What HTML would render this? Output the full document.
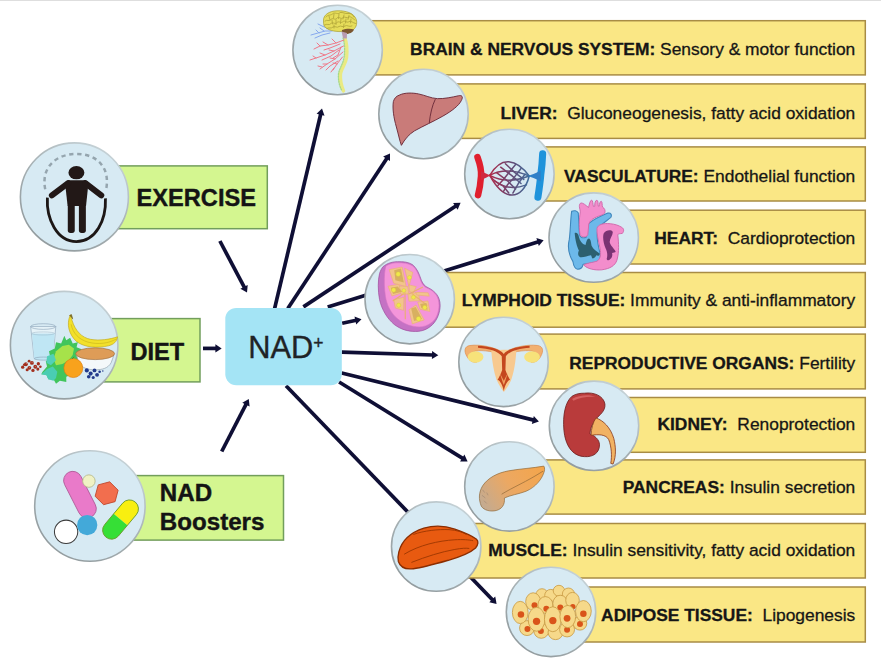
<!DOCTYPE html>
<html><head><meta charset="utf-8"><style>
html,body{margin:0;padding:0;background:#fff;width:881px;height:663px;overflow:hidden}
svg{display:block;font-family:"Liberation Sans",sans-serif}
</style></head><body>
<svg width="881" height="663" viewBox="0 0 881 663" font-family="Liberation Sans, sans-serif"><defs><linearGradient id="cg" x1="0.85" y1="0" x2="0.15" y2="1"><stop offset="0" stop-color="#cad7dc"/><stop offset="0.45" stop-color="#a9b3b6"/><stop offset="1" stop-color="#8f989b"/></linearGradient></defs><rect x="0" y="0" width="881" height="1.0" fill="#dedede"/>
<line x1="274.6" y1="308.6" x2="320.8" y2="113.8" stroke="#0f0f35" stroke-width="3.7"/><polygon points="322.0,108.6 324.5,115.7 316.6,113.8" fill="#0f0f35"/>
<line x1="287.8" y1="308.6" x2="387.1" y2="157.9" stroke="#0f0f35" stroke-width="3.7"/><polygon points="390.0,153.5 390.0,161.0 383.1,156.5" fill="#0f0f35"/>
<line x1="303.4" y1="306.9" x2="456.2" y2="205.7" stroke="#0f0f35" stroke-width="3.7"/><polygon points="460.6,202.8 457.6,209.7 453.1,202.9" fill="#0f0f35"/>
<line x1="327.7" y1="306.9" x2="538.5" y2="241.8" stroke="#0f0f35" stroke-width="3.7"/><polygon points="543.6,240.2 538.8,246.0 536.4,238.1" fill="#0f0f35"/>
<line x1="342.2" y1="323.2" x2="356.3" y2="320.3" stroke="#0f0f35" stroke-width="3.7"/><polygon points="361.5,319.2 356.2,324.5 354.5,316.5" fill="#0f0f35"/>
<line x1="341.8" y1="352.2" x2="433.0" y2="355.0" stroke="#0f0f35" stroke-width="3.7"/><polygon points="438.3,355.2 431.9,359.1 432.1,350.9" fill="#0f0f35"/>
<line x1="341.7" y1="373.0" x2="533.8" y2="420.1" stroke="#0f0f35" stroke-width="3.7"/><polygon points="538.9,421.4 531.8,423.9 533.8,415.9" fill="#0f0f35"/>
<line x1="339.1" y1="382.0" x2="463.1" y2="458.6" stroke="#0f0f35" stroke-width="3.7"/><polygon points="467.6,461.4 460.1,461.6 464.4,454.6" fill="#0f0f35"/>
<line x1="286.0" y1="385.8" x2="492.9" y2="600.2" stroke="#0f0f35" stroke-width="3.7"/><polygon points="496.6,604.0 489.3,602.3 495.2,596.6" fill="#0f0f35"/>
<line x1="219.9" y1="241.0" x2="244.5" y2="287.7" stroke="#0f0f35" stroke-width="3.7"/><polygon points="247.0,292.4 240.4,288.7 247.7,284.9" fill="#0f0f35"/>
<line x1="203.0" y1="348.4" x2="216.4" y2="348.4" stroke="#0f0f35" stroke-width="3.7"/><polygon points="221.7,348.4 215.4,352.5 215.4,344.3" fill="#0f0f35"/>
<line x1="221.7" y1="451.5" x2="246.4" y2="403.7" stroke="#0f0f35" stroke-width="3.7"/><polygon points="248.8,399.0 249.6,406.5 242.3,402.7" fill="#0f0f35"/>
<rect x="337.6" y="20.7" width="527.7" height="54.2" fill="#fae785" stroke="#a88c45" stroke-width="1.5"/>
<text x="855.3" y="54.9" text-anchor="end" font-size="17.4" fill="#161616" stroke="#161616" stroke-width="0.3" xml:space="preserve"><tspan font-weight="bold">BRAIN &amp; NERVOUS SYSTEM:</tspan> Sensory &amp; motor function</text>
<rect x="423.5" y="83.9" width="441.8" height="54.5" fill="#fae785" stroke="#a88c45" stroke-width="1.5"/>
<text x="855.3" y="118.8" text-anchor="end" font-size="17.4" fill="#161616" stroke="#161616" stroke-width="0.3" xml:space="preserve"><tspan font-weight="bold">LIVER:</tspan>  Gluconeogenesis, fatty acid oxidation</text>
<rect x="509.4" y="146.9" width="355.9" height="54.1" fill="#fae785" stroke="#a88c45" stroke-width="1.5"/>
<text x="855.3" y="181.5" text-anchor="end" font-size="17.4" fill="#161616" stroke="#161616" stroke-width="0.3" xml:space="preserve"><tspan font-weight="bold">VASCULATURE:</tspan> Endothelial function</text>
<rect x="593.7" y="210.2" width="271.6" height="53.8" fill="#fae785" stroke="#a88c45" stroke-width="1.5"/>
<text x="855.3" y="244.3" text-anchor="end" font-size="17.4" fill="#161616" stroke="#161616" stroke-width="0.3" xml:space="preserve"><tspan font-weight="bold">HEART:</tspan>  Cardioprotection</text>
<rect x="409.7" y="272.5" width="455.6" height="54.7" fill="#fae785" stroke="#a88c45" stroke-width="1.5"/>
<text x="855.3" y="306.2" text-anchor="end" font-size="17.4" fill="#161616" stroke="#161616" stroke-width="0.3" xml:space="preserve"><tspan font-weight="bold">LYMPHOID TISSUE:</tspan> Immunity &amp; anti-inflammatory</text>
<rect x="503.5" y="334.1" width="361.8" height="54.8" fill="#fae785" stroke="#a88c45" stroke-width="1.5"/>
<text x="855.3" y="369.1" text-anchor="end" font-size="17.4" fill="#161616" stroke="#161616" stroke-width="0.3" xml:space="preserve"><tspan font-weight="bold">REPRODUCTIVE ORGANS:</tspan> Fertility</text>
<rect x="594.0" y="397.5" width="271.3" height="54.8" fill="#fae785" stroke="#a88c45" stroke-width="1.5"/>
<text x="855.3" y="430.2" text-anchor="end" font-size="17.4" fill="#161616" stroke="#161616" stroke-width="0.3" xml:space="preserve"><tspan font-weight="bold">KIDNEY:</tspan>  Renoprotection</text>
<rect x="509.4" y="459.9" width="355.9" height="54.2" fill="#fae785" stroke="#a88c45" stroke-width="1.5"/>
<text x="855.3" y="492.7" text-anchor="end" font-size="17.4" fill="#161616" stroke="#161616" stroke-width="0.3" xml:space="preserve"><tspan font-weight="bold">PANCREAS:</tspan> Insulin secretion</text>
<rect x="436.2" y="523.5" width="429.1" height="54.5" fill="#fae785" stroke="#a88c45" stroke-width="1.5"/>
<text x="855.3" y="556.3" text-anchor="end" font-size="17.4" fill="#161616" stroke="#161616" stroke-width="0.3" xml:space="preserve"><tspan font-weight="bold">MUSCLE:</tspan> Insulin sensitivity, fatty acid oxidation</text>
<rect x="551.0" y="587.0" width="314.3" height="55.0" fill="#fae785" stroke="#a88c45" stroke-width="1.5"/>
<text x="855.3" y="620.6" text-anchor="end" font-size="17.4" fill="#161616" stroke="#161616" stroke-width="0.3" xml:space="preserve"><tspan font-weight="bold">ADIPOSE TISSUE:</tspan>  Lipogenesis</text>
<circle cx="337.6" cy="50" r="44.7" fill="#d7eaf3" stroke="url(#cg)" stroke-width="1.6"/>

<g stroke-linecap="round" fill="none">
<path d="M344.5,37 C346.5,42 347.5,50 346.5,58 C345.5,64 341,69 340.5,74 C340,80 341.5,86 343.5,91" stroke="#eaea82" stroke-width="3.4"/>
<path d="M343,38 C345,44 345,52 344,58 C343,64 339,69 338.5,74 C338,80 339.5,86 341.5,90" stroke="#a8d884" stroke-width="1.3" stroke-dasharray="1.3 1.3"/>
<g stroke="#ef7888" stroke-width="1">
<path d="M344,40 L336,43 L328,45 L320,46 L314,49"/><path d="M328,45 L323,42"/><path d="M336,43 L332,39"/><path d="M320,46 L317,43"/>
<path d="M343.5,46 L334,51 L325,55 L316,58 L310,60"/><path d="M325,55 L320,53"/><path d="M334,51 L329,50"/><path d="M316,58 L313,56"/>
<path d="M343,52 L335,59 L327,64 L320,69"/><path d="M327,64 L323,64"/><path d="M335,59 L330,58"/><path d="M322,67 L318,66"/>
<path d="M342.5,57 L337,64 L333,70"/><path d="M337,64 L333,63"/><path d="M334,68 L331,72"/>
<path d="M341,47 L338,55 L333,58"/><path d="M340,44 L330,48 L324,50"/><path d="M339,50 L331,56 L322,60"/><path d="M338,61 L330,66 L326,70"/>
</g>
<g stroke="#86a8ee" stroke-width="1">
<path d="M332,31 L325,31 L318,33 L311,35"/><path d="M329,29 L322,26 L318,24"/><path d="M330,33 L322,35 L315,38"/><path d="M324,31 L320,28"/><path d="M319,33 L316,30"/>
</g>
</g>
<path d="M323.5,21 C323,15 329,11 337,10.8 C346,10.5 354,13 356.3,19.5 C357.5,24 356,28.5 352,30.5 C346,31.5 340,32 335,31.2 C330,30.5 325.5,28.5 324,25.5 C323.5,24 323.5,22.5 323.5,21 Z" fill="#e6dd5a" stroke="#a89e32" stroke-width="0.7"/>
<g fill="none" stroke="#aea338" stroke-width="0.8" stroke-linecap="round">
<path d="M326,17 C328,14 331,16 333,13.5 C335,12 338,15 340,12.5 C343,12 345,14 348,13.5 C351,13 353,15 354,17"/>
<path d="M325,21 C327,19 329,22 331,19.5 C333,17 335,21 337,18 C339,16 341,20 343,17.5 C345,16 347,19 349,17 C351,16 353,19 355,20"/>
<path d="M324.5,25 C327,23 329,26 331,23.5 C333,21.5 335,25 337,22.5 C339,20.5 341,24 343,21.5 C345,20 347,23.5 349,21.5 C351,20.5 353,23 355.5,23.5"/>
<path d="M327,28.5 C329,27 331,29 333,27 C335,25.5 337,28.5 339,26.5 C341,25 343,28 345,26 C347,24.5 349,27.5 352,26"/>
<path d="M329,16 L330,20 M334,14 L333.5,18 M339,14 L338.5,18.5 M344,15 L343,19 M349,15.5 L348,19.5 M332,20 L332.5,24 M336,20 L336,24.5 M341,19 L340.5,23.5 M346,19 L345.5,23 M351,19 L350.5,23 M334,25 L334,28 M344,24 L343.5,27.5"/>
</g>
<path d="M342,30 C346,28.5 351,28.5 354,29.5 C353,32.5 349,34 346,34 C343.5,34 341.5,32.5 342,30 Z" fill="#7b5630"/>
<path d="M341.5,31.5 L347,33 L346.8,38.5 L343.2,38.5 Z" fill="#b99ab0"/>

<circle cx="423.5" cy="114" r="44.7" fill="#d7eaf3" stroke="url(#cg)" stroke-width="1.6"/>
<g transform="translate(379 70) scale(0.13575)">
<path d="M150,185 C190,165 250,168 290,176 C340,186 380,208 430,211 C480,213 540,200 585,190 C612,184 622,196 606,226 C588,262 540,300 470,340 C400,380 330,410 262,448 C220,474 190,510 165,555 C152,520 142,470 128,420 C108,350 98,282 106,232 C114,206 128,193 150,185 Z" fill="#c97b79" stroke="#6d2c3a" stroke-width="7"/>
<path d="M415,215 C392,262 378,320 370,392" fill="none" stroke="#6d2c3a" stroke-width="7"/>
</g>
<circle cx="509.4" cy="174" r="44.7" fill="#d7eaf3" stroke="url(#cg)" stroke-width="1.6"/>
<g transform="translate(465 130) scale(0.13575)">


<path d="M92,200 C110,250 122,300 118,340 C114,400 104,450 96,480" fill="none" stroke="#e01f2e" stroke-width="48" stroke-linecap="round"/>
<path d="M572,175 C570,230 564,290 558,332 C552,400 544,450 537,495" fill="none" stroke="#1e93db" stroke-width="52" stroke-linecap="round"/>
</g><g transform="translate(483 155) scale(0.06789)">
<defs><linearGradient id="vg" gradientUnits="userSpaceOnUse" x1="100" y1="0" x2="680" y2="0"><stop offset="0" stop-color="#b02a48"/><stop offset="0.5" stop-color="#6a4670"/><stop offset="1" stop-color="#3f6e9c"/></linearGradient></defs>
<g fill="none" stroke="url(#vg)" stroke-width="22" stroke-linecap="round" stroke-linejoin="round">
<path d="M100,300 C200,130 300,95 380,100 C500,110 600,200 680,310"/>
<path d="M100,300 C180,450 280,580 420,590 C540,595 640,480 680,310"/>
<path d="M100,300 C250,220 420,200 680,310"/>
<path d="M100,300 C250,380 450,400 680,310"/>
<path d="M100,300 C220,470 420,520 640,440"/>
<path d="M260,180 L420,300 L560,420"/>
<path d="M330,130 L470,260 L600,360"/>
<path d="M200,260 L360,380 L480,500"/>
<path d="M170,380 L300,460 L380,560"/>
<path d="M480,140 L380,260 L300,360 L220,450"/>
<path d="M560,200 L460,330 L360,440 L300,540"/>
<path d="M620,280 L520,420 L440,560"/>
</g>
<path d="M-30,235 C30,265 80,290 115,300 C80,318 30,345 -30,375 Z" fill="#d02a40"/>
<path d="M850,230 C770,270 710,298 665,310 C710,325 770,350 850,390 Z" fill="#3080c8"/>
</g>
<circle cx="593.7" cy="237.6" r="44.7" fill="#d7eaf3" stroke="url(#cg)" stroke-width="1.6"/>
<g transform="translate(562 195) scale(0.12069)">
<path d="M80,135 C100,125 125,130 135,150 L145,330 C150,350 170,360 200,350 L215,240 C260,205 330,170 380,150 C405,145 415,165 405,185 C370,215 320,245 300,280 C285,320 295,400 310,460 C320,500 320,540 300,560 C260,570 200,560 175,575 C170,600 160,615 130,615 C100,612 95,580 90,550 C60,500 45,430 60,370 C70,300 70,200 80,135 Z" fill="#6cb9ea" stroke="#3f86bb" stroke-width="9"/>
<path d="M158,66 C176,66 196,84 220,104 C226,78 232,48 245,42 C256,44 255,72 260,95 L272,93 C270,68 276,44 289,43 C300,46 298,72 300,92 L308,93 C310,72 316,52 325,52 C336,58 330,85 336,100 C352,110 362,128 354,150 C342,166 312,170 286,182 C256,195 232,210 222,240 L214,330 C206,350 166,356 150,330 C142,290 140,200 152,140 C150,124 146,112 144,96 C143,82 148,68 158,66 Z" fill="#f38dcc" stroke="#d06aac" stroke-width="8"/>
<path d="M290,275 C300,245 340,232 400,238 C440,242 470,252 495,268 C515,280 515,300 500,318 C480,322 465,318 462,330 C470,400 475,470 455,540 C440,585 400,610 330,620 C270,625 210,612 180,580 C200,565 250,560 290,548 C320,530 325,490 315,440 C305,390 285,320 290,275 Z" fill="#f38dcc" stroke="#d06aac" stroke-width="8"/>
<path d="M105,315 C120,305 135,320 140,345 C148,380 165,405 195,415 C200,390 205,365 222,360 C240,365 240,395 245,420 C258,450 290,470 312,485 C315,500 300,510 285,500 C275,515 265,530 250,525 C245,515 245,505 240,500 C210,505 175,520 150,515 C130,505 130,480 140,460 C125,430 110,380 105,315 Z" fill="#2c6070"/>
<path d="M345,320 C365,290 405,285 420,305 C425,330 395,360 395,390 C400,420 430,440 445,470 C440,480 425,475 415,480 C420,500 415,520 400,530 C390,545 375,545 370,530 C380,500 375,470 360,440 C345,400 335,350 345,320 Z" fill="#7a3373"/>
</g>
<circle cx="409.7" cy="299.2" r="44.7" fill="#d7eaf3" stroke="url(#cg)" stroke-width="1.6"/>
<g transform="translate(375 260) scale(0.11308)">
<path d="M70,60 C110,25 160,15 200,15 C250,14 290,16 330,40 C370,70 390,120 410,180 C425,215 440,232 470,245 C530,275 575,320 576,400 C577,460 550,530 510,570 C470,610 420,632 360,632 C290,632 230,615 170,570 C110,520 60,440 40,350 C25,270 25,180 40,120 C48,95 58,75 70,60 Z" fill="#c472c4" stroke="#9c4c9a" stroke-width="6"/>
<path d="M100,50 C140,30 170,25 200,25 C250,24 290,28 330,50 C365,75 385,125 405,185 C420,220 440,240 470,252 C530,280 566,325 566,400 C566,455 545,520 505,550 C465,580 430,592 390,592 C330,592 260,570 200,520 C140,470 105,400 92,320 C82,250 80,180 85,120 C88,90 92,65 100,50 Z" fill="#f495da" stroke="#d874c4" stroke-width="5"/>
<g fill="#f2c48c" stroke="#e8b070" stroke-width="5" stroke-linejoin="round">
<path d="M125,85 L240,62 L275,235 L165,205 Z"/>
<path d="M262,72 L335,110 L300,235 Z"/>
<path d="M115,232 L205,215 L265,282 L150,318 Z"/>
<path d="M215,230 L290,235 L300,300 L230,305 Z"/>
<path d="M300,220 L365,235 L340,290 L305,280 Z"/>
<path d="M290,295 L385,290 L395,360 L300,365 Z"/>
<path d="M165,350 L255,330 L252,445 L180,425 Z"/>
<path d="M378,372 L468,362 L485,455 L398,435 Z"/>
<path d="M300,440 L362,398 L435,530 L330,565 Z"/>
<path d="M360,285 L470,290 L480,320 L370,310 Z"/>
</g>
<g fill="none" stroke="#e8b070" stroke-width="10" stroke-linecap="round">
<path d="M265,290 L268,520 M300,300 L420,240 M330,300 L460,400 M250,300 L160,360"/>
</g>
<g fill="#d8b060"><path d="M170,90 L230,75 L255,200 L180,180 Z"/><path d="M140,245 L200,235 L240,280 L160,300 Z"/><path d="M320,430 L360,415 L415,520 L345,540 Z"/><path d="M400,390 L455,380 L465,440 L410,425 Z"/></g>
<g fill="#f0e84a" stroke="#d0c038" stroke-width="3">
<circle cx="205" cy="125" r="20"/><circle cx="305" cy="155" r="18"/><circle cx="165" cy="265" r="20"/><circle cx="255" cy="270" r="17"/>
<circle cx="340" cy="330" r="18"/><circle cx="210" cy="400" r="19"/><circle cx="440" cy="420" r="19"/><circle cx="385" cy="520" r="21"/>
</g>
</g>
<circle cx="503.5" cy="361.9" r="44.7" fill="#d7eaf3" stroke="url(#cg)" stroke-width="1.6"/>
<g transform="translate(459 317) scale(0.13575)">
<path d="M330,262 C260,222 160,200 80,210 C40,216 35,250 58,290 C72,318 100,338 130,332 C100,320 80,300 90,270 C100,245 170,240 260,260 Z" fill="#f2b070" stroke="#e08a48" stroke-width="5"/>
<path d="M330,262 C400,222 500,200 580,210 C620,216 625,250 602,290 C588,318 560,338 530,332 C560,320 580,300 570,270 C560,245 490,240 400,260 Z" fill="#f2b070" stroke="#e08a48" stroke-width="5"/>
<ellipse cx="122" cy="295" rx="58" ry="42" fill="#f7e27a"/>
<ellipse cx="538" cy="295" rx="58" ry="42" fill="#f7e27a"/>
<path d="M238,250 C300,238 360,238 422,250 C418,330 402,420 382,470 C362,510 342,538 330,552 C316,532 292,500 276,460 C256,400 244,330 238,250 Z" fill="#f8c98f"/>
<path d="M140,212 C220,215 300,235 330,272 C360,235 440,215 520,212 L520,226 C440,232 370,250 345,290 L342,390 C352,420 368,450 376,462 C356,470 340,500 330,545 C320,500 304,470 284,462 C292,450 308,420 318,390 L315,290 C290,250 220,232 140,226 Z" fill="#c4461e"/>
<path d="M300,410 L330,470 L360,410 C350,440 340,480 330,500 C320,480 310,440 300,410 Z" fill="#f0a060"/>
</g>
<circle cx="594" cy="425.8" r="44.7" fill="#d7eaf3" stroke="url(#cg)" stroke-width="1.6"/>
<g transform="translate(549 381) scale(0.13575)">
<path d="M260,90 C332,80 402,110 412,170 C417,222 372,250 346,280 C322,310 302,350 302,390 C332,400 372,430 372,470 C372,532 322,562 260,557 C170,552 120,472 110,362 C100,252 120,152 170,112 C200,93 230,90 260,90 Z" fill="#b93b3b" stroke="#6c1c1c" stroke-width="6"/>
<path d="M170,132 C220,102 300,96 342,116 C282,112 222,122 180,145 Z" fill="#d46060"/>
<path d="M346,272 C402,292 452,342 477,422 C492,482 497,550 472,612 L455,607 C465,552 460,482 440,432 C420,392 362,392 310,400 C310,352 325,302 346,272 Z" fill="#f1b263" stroke="#8a3a1a" stroke-width="6"/>
</g>
<circle cx="509.4" cy="486.4" r="44.7" fill="#d7eaf3" stroke="url(#cg)" stroke-width="1.6"/>
<g transform="translate(465 441) scale(0.13575)">
<defs><linearGradient id="pg" gradientUnits="userSpaceOnUse" x1="580" y1="190" x2="110" y2="500"><stop offset="0" stop-color="#f4a54a"/><stop offset="0.5" stop-color="#eca862"/><stop offset="1" stop-color="#bfab96"/></linearGradient></defs>
<path d="M580,185 C500,200 400,205 320,220 C240,235 170,270 130,330 C100,380 100,430 120,480 C140,512 190,522 230,512 C270,502 296,470 290,420 C330,400 400,390 450,370 C520,340 570,280 585,220 C588,205 585,190 580,185 Z" fill="url(#pg)" stroke="#8e6636" stroke-width="5"/>
<path d="M270,392 C350,342 450,302 575,222" fill="none" stroke="#8e6636" stroke-width="5"/>
<path d="M130,360 L145,380 M125,400 L150,420 M140,440 L160,460 M160,380 L170,400" fill="none" stroke="#9a8470" stroke-width="4"/>
</g>
<circle cx="436.2" cy="546.6" r="44.7" fill="#d7eaf3" stroke="url(#cg)" stroke-width="1.6"/>
<g transform="translate(395 520) scale(0.09648)">
<path d="M40,330 C70,220 160,130 300,85 C400,55 520,60 620,95 C720,130 800,165 845,200 C868,220 862,260 835,290 C780,340 680,380 560,415 C420,455 300,490 190,505 C110,515 55,490 35,430 C28,400 32,360 40,330 Z" fill="#e85a10" stroke="#8b2d00" stroke-width="14"/>
<path d="M190,150 C300,110 450,95 560,100 C640,105 700,125 740,150" fill="none" stroke="#9a3500" stroke-width="9"/>
<path d="M95,355 C250,260 450,215 620,205 C700,200 770,205 810,215" fill="none" stroke="#9a3500" stroke-width="9"/>
<path d="M170,440 C320,380 480,330 620,305 C690,292 740,290 770,295" fill="none" stroke="#9a3500" stroke-width="9"/>
</g>
<circle cx="551.0" cy="611.9" r="44.7" fill="#d7eaf3" stroke="url(#cg)" stroke-width="1.6"/>
<g transform="translate(506 567) scale(0.13575)"><ellipse cx="265" cy="205" rx="45" ry="45" fill="#f6d98a" stroke="#c99a42" stroke-width="6"/><ellipse cx="330" cy="210" rx="45" ry="45" fill="#f6d98a" stroke="#c99a42" stroke-width="6"/><ellipse cx="390" cy="175" rx="42" ry="40" fill="#f6d98a" stroke="#c99a42" stroke-width="6"/><ellipse cx="460" cy="200" rx="45" ry="45" fill="#f6d98a" stroke="#c99a42" stroke-width="6"/><ellipse cx="200" cy="255" rx="55" ry="65" fill="#f6d98a" stroke="#c99a42" stroke-width="6"/><circle cx="210" cy="282" r="22" fill="#d9541a"/><ellipse cx="290" cy="280" rx="55" ry="62" fill="#f6d98a" stroke="#c99a42" stroke-width="6"/><circle cx="297" cy="308" r="22" fill="#d9541a"/><ellipse cx="400" cy="270" rx="55" ry="62" fill="#f6d98a" stroke="#c99a42" stroke-width="6"/><circle cx="400" cy="298" r="22" fill="#d9541a"/><ellipse cx="490" cy="245" rx="50" ry="58" fill="#f6d98a" stroke="#c99a42" stroke-width="6"/><circle cx="492" cy="292" r="20" fill="#d9541a"/><ellipse cx="155" cy="450" rx="55" ry="55" fill="#f6d98a" stroke="#c99a42" stroke-width="6"/><circle cx="158" cy="457" r="22" fill="#d9541a"/><ellipse cx="260" cy="470" rx="55" ry="55" fill="#f6d98a" stroke="#c99a42" stroke-width="6"/><circle cx="257" cy="472" r="22" fill="#d9541a"/><ellipse cx="365" cy="480" rx="55" ry="55" fill="#f6d98a" stroke="#c99a42" stroke-width="6"/><ellipse cx="450" cy="460" rx="55" ry="55" fill="#f6d98a" stroke="#c99a42" stroke-width="6"/><circle cx="450" cy="462" r="22" fill="#d9541a"/><ellipse cx="545" cy="415" rx="50" ry="50" fill="#f6d98a" stroke="#c99a42" stroke-width="6"/><circle cx="545" cy="420" r="22" fill="#d9541a"/><ellipse cx="105" cy="335" rx="58" ry="82" fill="#f6d98a" stroke="#c99a42" stroke-width="6"/><circle cx="110" cy="350" r="24" fill="#d9541a"/><ellipse cx="225" cy="385" rx="62" ry="88" fill="#f6d98a" stroke="#c99a42" stroke-width="6"/><circle cx="225" cy="400" r="27" fill="#d9541a"/><ellipse cx="345" cy="385" rx="62" ry="92" fill="#f6d98a" stroke="#c99a42" stroke-width="6"/><circle cx="345" cy="395" r="27" fill="#d9541a"/><ellipse cx="455" cy="365" rx="58" ry="82" fill="#f6d98a" stroke="#c99a42" stroke-width="6"/><circle cx="450" cy="378" r="25" fill="#d9541a"/><ellipse cx="570" cy="325" rx="58" ry="78" fill="#f6d98a" stroke="#c99a42" stroke-width="6"/><circle cx="570" cy="345" r="24" fill="#d9541a"/></g>
<rect x="100" y="165.9" width="167.3" height="62.79999999999998" fill="#d4f690" stroke="#729e5c" stroke-width="1.5"/>
<rect x="100" y="318.6" width="100.0" height="63.299999999999955" fill="#d4f690" stroke="#729e5c" stroke-width="1.5"/>
<rect x="110" y="475.6" width="173.5" height="64.5" fill="#d4f690" stroke="#729e5c" stroke-width="1.5"/>
<circle cx="74.4" cy="196.9" r="54" fill="#d7eaf3" stroke="url(#cg)" stroke-width="1.6"/>
<g transform="translate(20 142) scale(0.16592)">
<path d="M152,285 C125,150 220,72 340,72 C460,72 548,150 518,292" fill="none" stroke="#95a5ae" stroke-width="15" stroke-dasharray="26 22"/>
<path d="M165,335 C158,462 222,600 340,600 C458,600 520,470 515,340" fill="none" stroke="#1d1716" stroke-width="17"/>
<ellipse cx="340" cy="185" rx="48" ry="40" fill="#221817"/>
<path d="M292,230 L392,230 C405,232 412,238 412,252 L398,385 L287,385 L272,252 C272,238 280,232 292,230 Z" fill="#221817"/>
<path d="M290,248 L192,322 M394,248 L490,322" stroke="#221817" stroke-width="36" stroke-linecap="round"/>
<rect x="288" y="370" width="42" height="178" rx="16" fill="#221817"/>
<rect x="355" y="370" width="42" height="178" rx="16" fill="#221817"/>
</g>
<circle cx="64.15" cy="345.15" r="53.75" fill="#d7eaf3" stroke="url(#cg)" stroke-width="1.6"/>
<g transform="translate(15 305) scale(0.12821)">
<path d="M122,168 L318,168 L296,418 L150,418 Z" fill="#e6f3f8" stroke="#8fa6ba" stroke-width="5"/>
<path d="M133,222 L310,222 L296,418 L150,418 Z" fill="#bfe6f4"/>
<ellipse cx="220" cy="222" rx="88" ry="12" fill="none" stroke="#9ab6c8" stroke-width="4"/>
<ellipse cx="220" cy="168" rx="98" ry="22" fill="none" stroke="#8fa6ba" stroke-width="5"/>
<ellipse cx="223" cy="418" rx="73" ry="12" fill="#bfe6f4" stroke="#8fa6ba" stroke-width="5"/>
<g fill="#a3301f"><circle cx="60" cy="485" r="13"/><circle cx="85" cy="462" r="15"/><circle cx="112" cy="490" r="15"/><circle cx="132" cy="452" r="15"/><circle cx="158" cy="482" r="15"/><circle cx="182" cy="458" r="13"/><circle cx="95" cy="505" r="12"/><circle cx="140" cy="510" r="13"/><circle cx="178" cy="500" r="12"/><circle cx="110" cy="438" r="11"/><circle cx="198" cy="482" r="10"/><circle cx="72" cy="466" r="10"/></g>
<g fill="#f4d8d0"><circle cx="88" cy="458" r="3"/><circle cx="133" cy="448" r="3"/><circle cx="112" cy="488" r="3"/><circle cx="158" cy="478" r="3"/></g>
<path d="M430,80 C400,150 420,230 480,285 C540,330 640,340 730,318 C770,308 795,285 800,248 C740,268 660,280 590,268 C520,255 470,200 445,120 Z" fill="#f2e02a" stroke="#c0a818" stroke-width="5"/>
<path d="M438,150 C450,220 500,270 570,290 C650,310 730,300 790,265" fill="none" stroke="#c0a818" stroke-width="4"/>
<path d="M425,82 L440,75 L450,110" fill="#7a6a20" stroke="#7a6a20" stroke-width="6"/>
<path d="M215,520 L250,480 L240,440 L275,410 L265,360 L310,340 L320,290 L360,300 L385,240 L400,275 L430,255 L450,300 L490,290 L480,330 L520,345 L490,380 L500,420 L460,440 L470,480 L430,500 L440,545 L400,560 L400,600 L350,590 L320,615 L300,580 L260,580 L245,545 L205,540 Z" fill="#41c55c"/>
<path d="M300,420 L320,360 L370,320 L420,310 L460,340 L450,390 L420,430 L370,460 L320,470 Z" fill="#a6e24a"/>
<path d="M205,540 L250,500 L295,480 L330,520 L320,570 L300,590 L260,580 L245,548 Z" fill="#4acdb2"/>
<path d="M250,400 L300,380 L320,430 L280,470 L245,450 Z" fill="#52d0b8"/>
<path d="M480,395 C480,360 540,345 625,345 C710,345 770,360 770,395 L750,450 C725,495 680,505 625,505 C570,505 525,495 500,450 Z" fill="#f4f8fa" stroke="#8e9eab" stroke-width="5"/>
<ellipse cx="625" cy="380" rx="152" ry="46" fill="#de9c57" stroke="#9c6c3a" stroke-width="5"/>
<circle cx="455" cy="492" r="74" fill="#f8a21c" stroke="#de7e0e" stroke-width="5"/>
<path d="M445,420 L462,405" stroke="#5b8a20" stroke-width="7"/>
<g fill="#223a8c"><circle cx="560" cy="510" r="16"/><circle cx="590" cy="535" r="16"/><circle cx="620" cy="510" r="15"/><circle cx="575" cy="560" r="14"/><circle cx="640" cy="545" r="15"/><circle cx="610" cy="565" r="12"/><circle cx="660" cy="520" r="10"/><circle cx="685" cy="515" r="6"/></g>
</g>
<circle cx="89.9" cy="506" r="55.2" fill="#d7eaf3" stroke="url(#cg)" stroke-width="1.6"/>
<g transform="translate(34 449) scale(0.16893)">
<rect x="218" y="122" width="108" height="296" rx="54" fill="#e97ac9" stroke="#b35e9a" stroke-width="5" transform="rotate(-27 272 270)"/>
<circle cx="325" cy="190" r="37" fill="#f0f2c4" stroke="#b6b888" stroke-width="5"/>
<polygon points="430,192 491,227 491,297 430,332 369,297 369,227" fill="#f26e4e" stroke="#c04a30" stroke-width="5" transform="rotate(15 430 262)"/>
<circle cx="190" cy="490" r="69" fill="#ffffff" stroke="#3a3a3a" stroke-width="6"/>
<circle cx="315" cy="450" r="60" fill="#43a9d9"/>
<g transform="rotate(40 512 418)">
<path d="M459,418 L459,335 A53,53 0 0 1 565,335 L565,418 Z" fill="#f8ef10"/>
<path d="M459,418 L565,418 L565,500 A53,53 0 0 1 459,500 Z" fill="#36df36"/>
<rect x="459" y="282" width="106" height="271" rx="53" fill="none" stroke="#6a9a28" stroke-width="5"/>
</g>
</g>
<text x="136.6" y="206.4" font-size="23.6" font-weight="bold" fill="#141414" stroke="#141414" stroke-width="0.4">EXERCISE</text>
<text x="130.4" y="360.2" font-size="23.6" font-weight="bold" fill="#141414" stroke="#141414" stroke-width="0.4">DIET</text>
<text x="159.8" y="501.3" font-size="24.15" font-weight="bold" fill="#141414" stroke="#141414" stroke-width="0.4">NAD</text>
<text x="159.8" y="529.8" font-size="24.15" font-weight="bold" fill="#141414" stroke="#141414" stroke-width="0.4">Boosters</text>
<rect x="225.3" y="307.9" width="116.5" height="77.4" rx="11" fill="#a4e4f5"/>
<text x="248.3" y="357.6" font-size="30.8" fill="#1f2326" stroke="#1f2326" stroke-width="0.35">NAD<tspan font-size="17.5" dx="0" dy="-9">+</tspan></text></svg>
</body></html>
